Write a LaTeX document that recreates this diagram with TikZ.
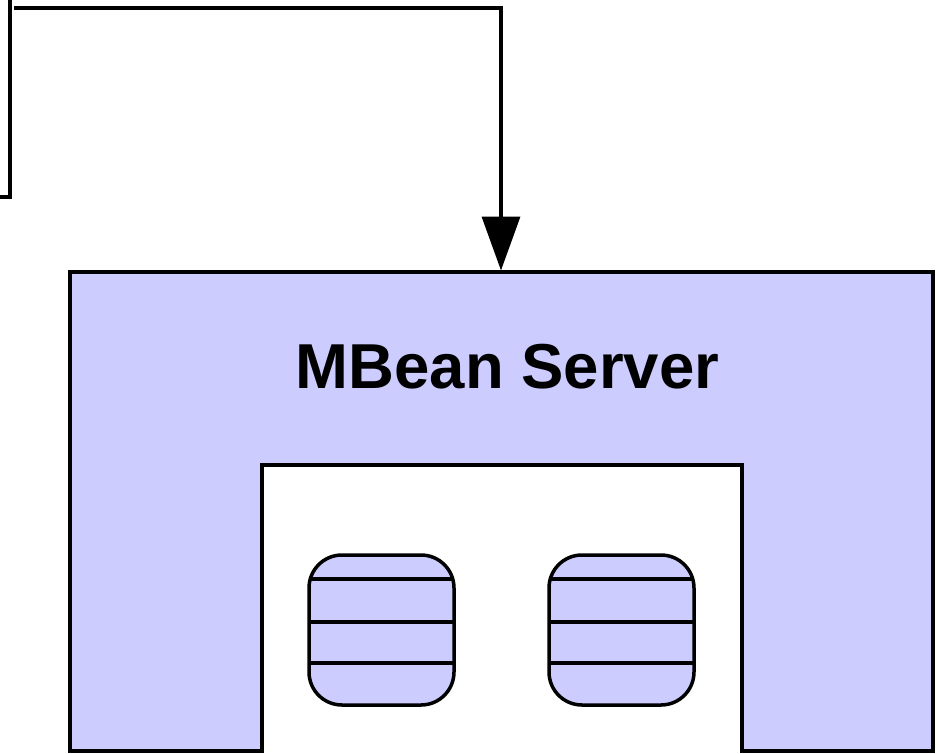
\documentclass[tikz,border=0pt]{standalone}
\usepackage{fontspec}
\setmainfont{Liberation Sans}
\usetikzlibrary{arrows.meta}
\definecolor{serverblue}{HTML}{CCCCFF}
\tikzset{
  wire/.style={line width=3.5pt, line join=miter},
  server/.style={draw, line width=3.5pt, fill=serverblue, line join=miter},
  mbean/.style={draw, line width=3.5pt, fill=serverblue, rounded corners=33pt,
    minimum width=145pt, minimum height=150pt, inner sep=0pt,
    path picture={
      \foreach \d in {24,67,108}
        \draw[line width=3.5pt]
          ([yshift=-\d pt]path picture bounding box.north west) --
          ([yshift=-\d pt]path picture bounding box.north east);
    }},
  title/.style={font=\fontsize{63.5}{70}\selectfont\bfseries, inner sep=0pt}
}
\begin{document}
\begin{tikzpicture}[x=1pt,y=-1pt]
  \useasboundingbox (0,0) rectangle (940,753);
  \fill[white] (0,0) rectangle (940,753);

  % MBean server body with the open notch at the bottom
  \draw[server] (70,272) -- (933,272) -- (933,751) -- (742,751) -- (742,465)
    -- (262,465) -- (262,751) -- (70,751) -- cycle;
  \node[title, anchor=base] (srvname) at (507.5,388) {MBean Server};
  \coordinate (srvtop) at (501,270.5);

  % registered MBeans
  \node[mbean] (bean1) at (381.5,630) {};
  \node[mbean] (bean2) at (621.5,630) {};

  % incoming connector
  \coordinate (src) at (14,8);
  \draw[wire, -{Triangle[length=54pt,width=38pt]}] (src) -| (srvtop);

  % connector leaving at the left edge
  \coordinate (lefttop) at (10,-3);
  \coordinate (leftend) at (-3,197);
  \draw[wire] (lefttop) |- (leftend);
\end{tikzpicture}
\end{document}
